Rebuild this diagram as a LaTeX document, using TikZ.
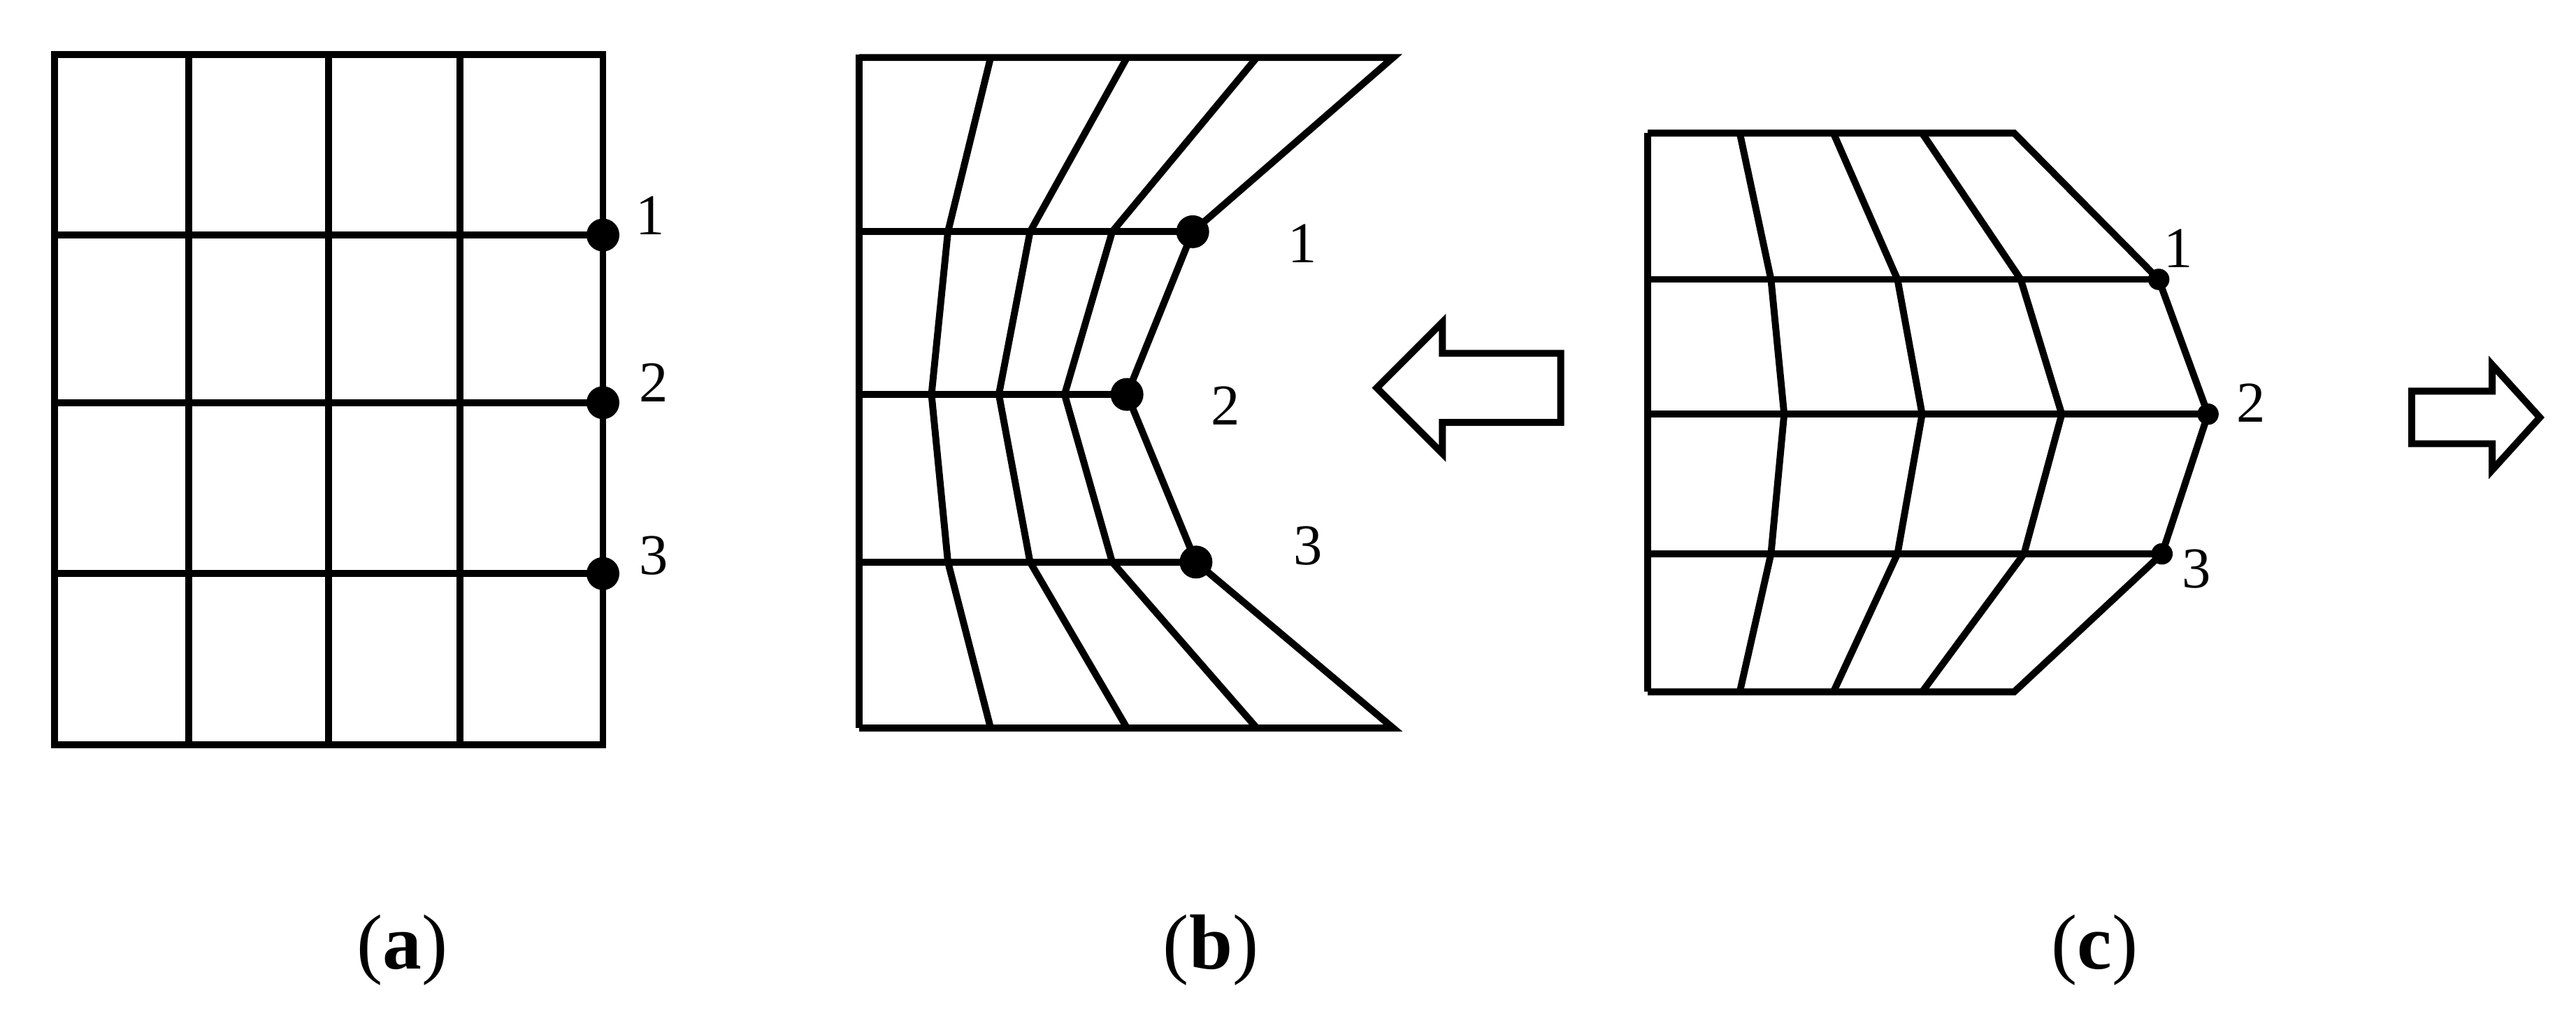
\documentclass[tikz,border=0pt]{standalone}
\usepackage{fontspec}
\setmainfont{Liberation Serif}
\begin{document}
\begin{tikzpicture}[x=0.01cm,y=-0.01cm,line width=1.2pt,line join=miter,
  dotb/.style={circle,fill=black,inner sep=0pt,minimum size=0.2cm},
  dots/.style={circle,fill=black,inner sep=0pt,minimum size=0.13cm},
  num/.style={font=\fontsize{10}{12}\selectfont},
  captext/.style={font=\fontsize{13.5}{16}\selectfont}]
\useasboundingbox (0,0) rectangle (1568,621);
% (a)
\draw (33,33) rectangle (367,453);
\foreach \x in {115,200,280} \draw (\x,33) -- (\x,453);
\foreach \y in {143,245,349} \draw (33,\y) -- (367,\y);
\node[dotb] (a1) at (367,143) {};
\node[dotb] (a2) at (367,245) {};
\node[dotb] (a3) at (367,349) {};
\node[num] (la1) at (396,131) {1};
\node[num] (la2) at (398,233) {2};
\node[num] (la3) at (398,338) {3};
% (b)
\draw (523,33) -- (523,443);
\draw (523,35) -- (848,35) -- (726,141) -- (686,240) -- (728,342) -- (848,443) -- (523,443);
\draw (523,141) -- (726,141);
\draw (523,240) -- (686,240);
\draw (523,342) -- (728,342);
\draw (603,35) -- (577,141) -- (567,240) -- (577,342) -- (603,443);
\draw (686,35) -- (627,141) -- (608,240) -- (627,342) -- (686,443);
\draw (765,35) -- (677,141) -- (648,240) -- (677,342) -- (765,443);
\node[dotb] (b1) at (726,141) {};
\node[dotb] (b2) at (686,240) {};
\node[dotb] (b3) at (728,342) {};
\node[num] (lb1) at (793,148) {1};
\node[num] (lb2) at (746,247) {2};
\node[num] (lb3) at (796,332) {3};
% left arrow
\draw (838,236) -- (878,196) -- (878,215) -- (950,215) -- (950,257) -- (878,257) -- (878,276) -- cycle;
% (c)
\draw (1003,81) -- (1003,421);
\draw (1003,81) -- (1226,81) -- (1314,170) -- (1344,252) -- (1316,337) -- (1226,421) -- (1003,421);
\draw (1003,170) -- (1314,170);
\draw (1003,252) -- (1344,252);
\draw (1003,337) -- (1316,337);
\draw (1059,81) -- (1078,170) -- (1086,252) -- (1078,337) -- (1059,421);
\draw (1116,81) -- (1155,170) -- (1170,252) -- (1155,337) -- (1116,421);
\draw (1170,81) -- (1230,170) -- (1255,252) -- (1232,337) -- (1170,421);
\node[dots] (c1) at (1314,170) {};
\node[dots] (c2) at (1344,252) {};
\node[dots] (c3) at (1316,337) {};
\node[num] (lc1) at (1326,151) {1};
\node[num] (lc2) at (1370,245) {2};
\node[num] (lc3) at (1337,346) {3};
% right arrow
\draw (1468,238) -- (1517,238) -- (1517,222) -- (1546,254) -- (1517,286) -- (1517,270) -- (1468,270) -- cycle;
% captions
\node[captext] (capa) at (245,578) {(\textbf{a})};
\node[captext] (capb) at (737,578) {(\textbf{b})};
\node[captext] (capc) at (1275,578) {(\textbf{c})};
\end{tikzpicture}
\end{document}
